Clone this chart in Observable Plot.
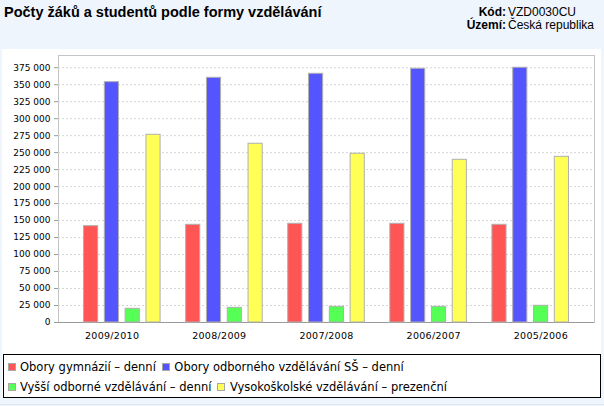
<!DOCTYPE html>
<html><head><meta charset="utf-8">
<script src="https://cdn.jsdelivr.net/npm/d3@7"></script>
<script src="https://cdn.jsdelivr.net/npm/@observablehq/plot@0.6"></script>
<style>
html,body{margin:0;padding:0;}
body{width:604px;height:406px;background:#eef5fd;position:relative;overflow:hidden;font-family:"Liberation Sans",Arial,sans-serif;color:#000;}
#title{position:absolute;left:4px;top:4px;font-weight:bold;font-size:14.5px;line-height:16px;white-space:nowrap;}
.mlab{position:absolute;right:98px;font-weight:bold;font-size:12px;line-height:13px;white-space:nowrap;}
.mval{position:absolute;left:508px;font-size:12px;line-height:13px;white-space:nowrap;}
#panel{position:absolute;left:2px;top:49px;width:599px;height:348px;background:#fff;}
#panel svg{position:absolute;left:0;top:0;}
#panel svg text{fill:#000;}
#panel [aria-label^="x-axis"] text{font-size:9.5px;letter-spacing:0.3px;}
#legend{position:absolute;left:3px;top:354px;width:598px;height:44px;box-sizing:border-box;border:1px solid #000;background:#fff;font-family:"DejaVu Sans",sans-serif;font-size:11.5px;}
.lrow{position:absolute;left:3.5px;height:18px;display:flex;align-items:center;white-space:nowrap;}
.sw{width:8px;height:8px;box-sizing:border-box;border:1px solid #a8a8a8;margin-right:4.5px;}
.li{display:flex;align-items:center;margin-right:6px;}
#bottomline{position:absolute;left:0;top:404px;width:604px;height:1px;background:#dde5ee;}
</style></head>
<body>
<div id="title">Počty žáků a studentů podle formy vzdělávání</div>
<div class="mlab" style="top:6px">Kód:</div><div class="mval" style="top:6px">VZD0030CU</div>
<div class="mlab" style="top:19px">Území:</div><div class="mval" style="top:19px">Česká republika</div>
<div id="panel"></div>
<div id="legend"></div>
<div id="bottomline"></div>
<script>
const years = ["2009/2010", "2008/2009", "2007/2008", "2006/2007", "2005/2006"];
const series = [
  "Obory gymnázií – denní",
  "Obory odborného vzdělávání SŠ – denní",
  "Vyšší odborné vzdělávání – denní",
  "Vysokoškolské vzdělávání – prezenční"
];
const colors = ["#ff5555", "#5555ff", "#55ff55", "#ffff55"];
const gymnazia = [141800, 143800, 145300, 145300, 143800];
const odborne = [353800, 360200, 366100, 373500, 375000];
const vyssiOdborne = [20200, 21600, 23100, 23100, 24600];
const vysokoskolske = [276300, 263100, 248400, 239500, 243900];
const yTicks = [0, 25000, 50000, 75000, 100000, 125000, 150000, 175000, 200000, 225000, 250000, 275000, 300000, 325000, 350000, 375000];
const yMax = 393000;

const valuesBySeries = [gymnazia, odborne, vyssiOdborne, vysokoskolske];
const rows = [];
years.forEach((yr, i) => series.forEach((s, j) => rows.push({year: yr, series: s, value: valuesBySeries[j][i]})));

const fmt = d => d3.format(",")(d).replace(/,/g, " ");
const W = 599, H = 300, mL = 56, mR = 7, mT = 6, mB = 27;

const back = Plot.plot({
  width: W, height: H, marginLeft: mL, marginRight: mR, marginTop: mT, marginBottom: mB,
  style: {background: "transparent", color: "#999", fontFamily: "DejaVu Sans, sans-serif", fontSize: "9px"},
  x: {domain: years, paddingInner: 0.25, paddingOuter: 0.25, round: false, tickSize: 0, tickPadding: 10, label: null},
  y: {domain: [0, yMax], ticks: yTicks, tickFormat: fmt, tickSize: 4, tickPadding: 4, label: null, line: true},
  marks: [
    Plot.frame({stroke: "#c4c4c4"}),
    Plot.ruleY(yTicks.slice(1), {stroke: "#d6d6d6", strokeDasharray: "2,2"}),
    Plot.ruleY([0], {stroke: "#999"})
  ]
});

const front = Plot.plot({
  width: W, height: H, marginLeft: mL, marginRight: mR, marginTop: mT, marginBottom: mB,
  style: {background: "transparent"},
  facet: {data: rows, x: "year"},
  fx: {domain: years, paddingInner: 0.25, paddingOuter: 0.25, round: false, axis: null, label: null},
  x: {domain: series, paddingInner: 0.32, paddingOuter: 0, round: false, axis: null},
  y: {domain: [0, yMax], axis: null},
  color: {domain: series, range: colors},
  marks: [
    Plot.barY(rows, {x: "series", y: "value", fill: "series", stroke: "#b0b0b0"})
  ]
});

const panel = document.getElementById("panel");
panel.appendChild(back);
panel.appendChild(front);

const legend = document.getElementById("legend");
const legendRows = [[0, 1], [2, 3]];
legendRows.forEach((idxs, r) => {
  const row = document.createElement("div");
  row.className = "lrow";
  row.style.top = (r === 0 ? 3 : 23) + "px";
  idxs.forEach(j => {
    const item = document.createElement("div");
    item.className = "li";
    const sw = document.createElement("div");
    sw.className = "sw";
    sw.style.background = colors[j];
    const t = document.createElement("span");
    t.textContent = series[j];
    item.appendChild(sw); item.appendChild(t);
    row.appendChild(item);
  });
  legend.appendChild(row);
});
</script>
</body></html>
